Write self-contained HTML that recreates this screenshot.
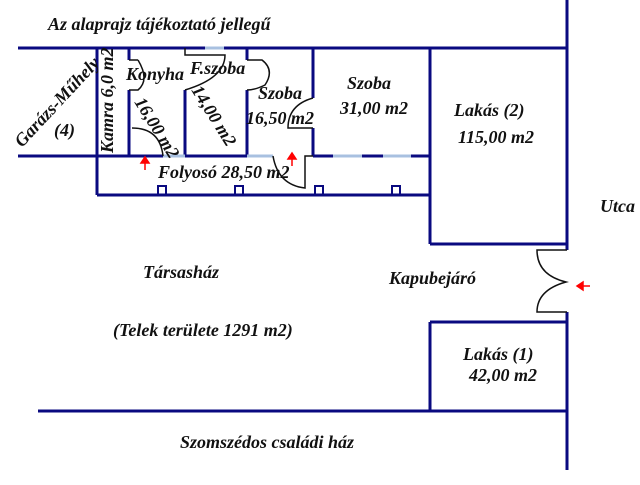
<!DOCTYPE html>
<html><head><meta charset="utf-8"><style>
body{margin:0;background:#fff;width:640px;height:480px;overflow:hidden}
svg text{font-family:"Liberation Serif",serif;font-style:italic;font-weight:bold;font-size:18px;fill:#111}
</style></head><body>
<svg width="640" height="480" viewBox="0 0 640 480">
<g stroke="#0a0a80" stroke-width="3" fill="none">
<line x1="18" y1="48" x2="567" y2="48"/>
<line x1="567" y1="0" x2="567" y2="250"/>
<line x1="567" y1="312" x2="567" y2="470"/>
<line x1="18" y1="156" x2="163" y2="156"/>
<line x1="185" y1="156" x2="247" y2="156"/>
<line x1="313" y1="156" x2="430" y2="156"/>
<line x1="97" y1="48" x2="97" y2="195"/>
<line x1="97" y1="195" x2="430" y2="195"/>
<line x1="430" y1="48" x2="430" y2="244"/>
<line x1="430" y1="244" x2="567" y2="244"/>
<line x1="430" y1="322" x2="567" y2="322"/>
<line x1="430" y1="322" x2="430" y2="411"/>
<line x1="38" y1="411" x2="567" y2="411"/>
<line x1="129" y1="48" x2="129" y2="60"/>
<line x1="129" y1="90" x2="129" y2="156"/>
<line x1="185" y1="90" x2="185" y2="156"/>
<line x1="247" y1="48" x2="247" y2="60"/>
<line x1="247" y1="90" x2="247" y2="156"/>
<line x1="313" y1="48" x2="313" y2="98"/>
<line x1="313" y1="128" x2="313" y2="156"/>
</g>
<g stroke="#0a0a80" stroke-width="2" fill="none">
<rect x="158" y="186" width="8" height="9"/><rect x="235" y="186" width="8" height="9"/>
<rect x="315" y="186" width="8" height="9"/><rect x="392" y="186" width="8" height="9"/>
</g>
<g stroke="#a8c0e0" stroke-width="3">
<line x1="205" y1="48" x2="224" y2="48"/>
<line x1="163" y1="156" x2="185" y2="156"/>
<line x1="247" y1="156" x2="273" y2="156"/>
<line x1="333" y1="156" x2="362" y2="156"/>
<line x1="383" y1="156" x2="411" y2="156"/>
</g>
<g stroke="#111" stroke-width="1.5" fill="none">
<path d="M129 60 L138 60 M129 90 L138 90 Q150 80 138 60"/>
<path d="M185 48 L185 55 L205 55"/>
<path d="M205 55 L225 55 Q225 78 185 90"/>
<path d="M247 60 L262 60 Q275 70 265 85 Q255 90 247 90"/>
<path d="M132 128 Q160 128 163 156"/>
<path d="M313 98 Q288 105 288 128 L313 128"/>
<path d="M273 156 Q278 185 305 188 L305 156 L313 156"/>
<path d="M567 250 L537 250 Q537 275 566 282 Q537 290 537 312 L567 312"/>
</g>
<g fill="red" stroke="red" stroke-width="1.5">
<line x1="145" y1="170" x2="145" y2="162"/><polygon points="141,163 149,163 145,157"/>
<line x1="292" y1="166" x2="292" y2="158"/><polygon points="288,159 296,159 292,153"/>
<line x1="590" y1="286" x2="582" y2="286"/><polygon points="583,282 583,290 577,286"/>
</g>
<text x="48" y="30">Az alaprajz tájékoztató jellegű</text>
<text x="126" y="80" font-size="17">Konyha</text>
<text x="190" y="74" font-size="17">F.szoba</text>
<text x="258" y="99" font-size="17">Szoba</text>
<text x="246" y="124" font-size="17">16,50 m2</text>
<text x="347" y="89">Szoba</text>
<text x="340" y="114">31,00 m2</text>
<text x="454" y="116">Lakás (2)</text>
<text x="458" y="143">115,00 m2</text>
<text x="600" y="212">Utca</text>
<text x="158" y="178">Folyosó 28,50 m2</text>
<text x="143" y="278">Társasház</text>
<text x="389" y="284">Kapubejáró</text>
<text x="113" y="336">(Telek területe 1291 m2)</text>
<text x="463" y="360">Lakás (1)</text>
<text x="469" y="381">42,00 m2</text>
<text x="180" y="448">Szomszédos családi ház</text>
<text x="54" y="136" font-size="17">(4)</text>
<text transform="translate(22,148) rotate(-47)" font-size="17">Garázs-Műhely</text>
<text transform="translate(113,153) rotate(-90)" font-size="17">Kamra 6,0 m2</text>
<text transform="translate(134,102) rotate(58)" font-size="17">16,00 m2</text>
<text transform="translate(191,90) rotate(58)" font-size="17">14,00 m2</text>
</svg>
</body></html>
